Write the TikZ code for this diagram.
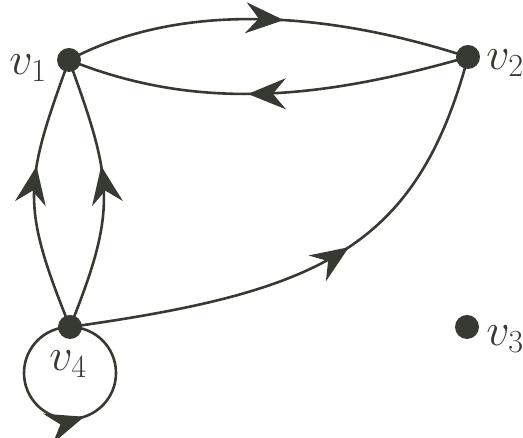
\RequirePackage{fix-cm}
\documentclass[tikz,border=0pt]{standalone}
\usetikzlibrary{arrows.meta,decorations.markings}
\definecolor{ink}{RGB}{55,58,50}
\begin{document}
\begin{tikzpicture}[x=1pt,y=1pt,
  vert/.style={circle,fill=ink,inner sep=0pt,minimum size=24pt},
  lbl/.style={inner sep=0pt,text=ink,font=\fontsize{46}{50}\selectfont},
  edge/.style={draw=ink,line width=2.6pt},
  midarrow/.style={postaction={decorate},decoration={markings,
     mark=at position #1 with {\arrow[ink]{Stealth[length=38pt,width=31pt,inset=13pt]}}}}]
\useasboundingbox (0,0) rectangle (523,438);
\node[vert] (v1) at (69,378) {};
\node[vert] (v2) at (468,381) {};
\node[vert] (v3) at (467,111) {};
\node[vert] (v4) at (70,111) {};
\node[lbl] (l1) at (28,370) {$v_1$};
\node[lbl] (l2) at (505,375) {$v_2$};
\node[lbl] (l3) at (505,99) {$v_3$};
\node[lbl] (l4) at (68,74) {$v_4$};
% v1 -> v2 (top)
\draw[edge,midarrow=0.54] (v1.center) .. controls +(28:125) and +(162:150) .. (v2.center);
% v2 -> v1 (bottom)
\draw[edge,midarrow=0.55] (v2.center) .. controls +(196:150) and +(-22:140) .. (v1.center);
% v4 -> v1 (left)
\draw[edge,midarrow=0.6] (v4.center) .. controls +(112:132) and +(-110:132) .. (v1.center);
% v4 -> v1 (right)
\draw[edge,midarrow=0.6] (v4.center) .. controls +(68:128) and +(-70:128) .. (v1.center);
% v4 -> v2
\draw[edge,midarrow=0.56] (v4.center) .. controls +(8:250) and +(-105:200) .. (v2.center);
% loop at v4
\draw[edge,midarrow=0.55] (v4.center) arc[start angle=90,end angle=450,radius=46];
\end{tikzpicture}
\end{document}
